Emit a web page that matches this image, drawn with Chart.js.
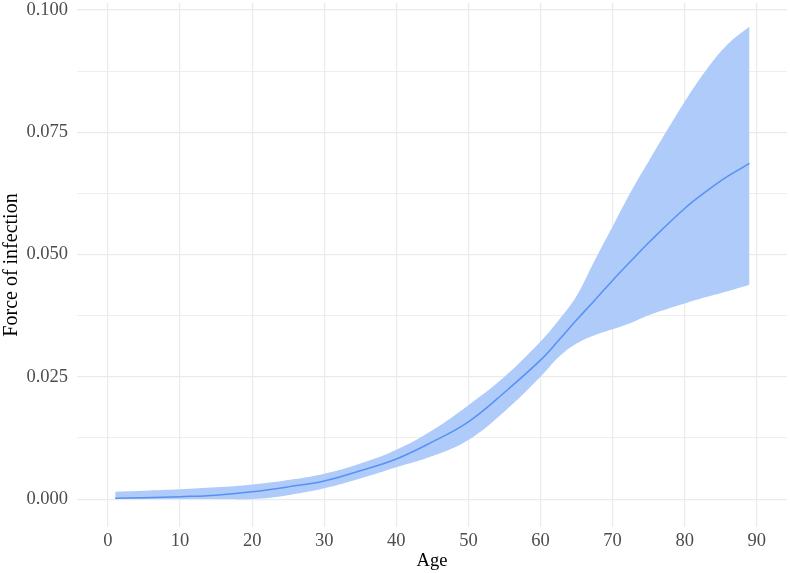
<!DOCTYPE html>
<html>
<head>
<meta charset="utf-8">
<script src="https://cdn.jsdelivr.net/npm/chart.js@4/dist/chart.umd.min.js"></script>
<style>
  html, body { margin: 0; padding: 0; background: #fff; }
  #wrap { width: 790px; height: 573px; }
</style>
</head>
<body>
<div id="wrap"><canvas id="foi"></canvas></div>
<script>
const ages = [1, 5, 10, 15, 20, 25, 30, 35, 40, 45, 50, 55, 60, 62.5, 65, 67.5, 70, 72.5, 75, 80, 83, 86, 89]
// posterior mean force of infection
const foiMean = [0.0002, 0.0003, 0.0005, 0.0008, 0.0015, 0.0025, 0.0037, 0.0058, 0.0082, 0.0117,
  0.0158, 0.0218, 0.0284, 0.0324, 0.0366, 0.0406, 0.0447, 0.0486, 0.0524, 0.0594, 0.0629, 0.0660, 0.0686]
// credible band
const foiLower = [0, 0, 0, 0, 0, 0.0008, 0.0022, 0.0042, 0.0065, 0.0088,
  0.0121, 0.0179, 0.0250, 0.0290, 0.0318, 0.0335, 0.0347, 0.0360, 0.0376, 0.0400, 0.0413, 0.0425, 0.0438]
const foiUpper = [0.0015, 0.0017, 0.0020, 0.0024, 0.0030, 0.0039, 0.0052, 0.0073, 0.0101, 0.0141,
  0.0192, 0.0250, 0.0322, 0.0365, 0.0415, 0.0487, 0.0557, 0.0627, 0.0690, 0.0812, 0.0877, 0.0930, 0.0966]

const xTicks = [0, 10, 20, 30, 40, 50, 60, 70, 80, 90]
const yTicks = [0, 0.0125, 0.025, 0.0375, 0.05, 0.0625, 0.075, 0.0875, 0.1]
const yLabeled = [0, 0.025, 0.05, 0.075, 0.1]

const pts = arr => arr.map((v, i) => ({ x: ages[i], y: v }))

const fontFam = "'Liberation Serif', 'Times New Roman', serif"
const isMajorY = v => yLabeled.some(m => Math.abs(m - v) < 1e-9)

new Chart(document.getElementById('foi'), {
  type: 'line',
  data: {
    datasets: [
      {
        data: pts(foiLower),
        borderWidth: 0,
        borderColor: 'rgba(0,0,0,0)',
        pointRadius: 0,
        fill: false,
        order: 1,
        tension: 0.4
      },
      {
        data: pts(foiUpper),
        borderWidth: 0,
        borderColor: 'rgba(0,0,0,0)',
        backgroundColor: 'rgb(174,203,250)',
        pointRadius: 0,
        fill: 0,
        order: 1,
        tension: 0.4
      },
      {
        data: pts(foiMean),
        borderWidth: 1.5,
        borderColor: 'rgb(88,145,245)',
        pointRadius: 0,
        fill: false,
        order: 0,
        tension: 0.4
      }
    ]
  },
  options: {
    responsive: true,
    maintainAspectRatio: false,
    animation: false,
    layout: { padding: { top: 3, right: 3, left: 0, bottom: 0 } },
    plugins: { legend: { display: false }, tooltip: { enabled: false } },
    scales: {
      x: {
        type: 'linear',
        min: -4.3,
        max: 94.2,
        afterBuildTicks: scale => { scale.ticks = xTicks.map(v => ({ value: v })) },
        afterFit: scale => { scale.height = 46; scale.paddingLeft = 0; scale.paddingRight = 0 },
        grid: { color: '#ebebeb', lineWidth: 1.2, drawTicks: false },
        border: { display: false },
        ticks: {
          padding: 3,
          color: '#4d4d4d',
          font: { family: fontFam, size: 18.5 },
          callback: v => String(v),
          maxRotation: 0
        },
        title: {
          display: true,
          text: 'Age',
          color: '#000',
          font: { family: fontFam, size: 18.5 },
          padding: { top: 0, bottom: 1 }
        }
      },
      y: {
        type: 'linear',
        min: -0.0057,
        max: 0.1014,
        afterBuildTicks: scale => { scale.ticks = yTicks.map(v => ({ value: v })) },
        afterFit: scale => { scale.width = 77; scale.paddingTop = 0; scale.paddingBottom = 0 },
        grid: {
          color: '#ebebeb',
          lineWidth: ctx => (ctx.tick && isMajorY(ctx.tick.value)) ? 1.2 : 0.8,
          drawTicks: false
        },
        border: { display: false },
        ticks: {
          padding: 9,
          color: '#4d4d4d',
          font: { family: fontFam, size: 18.5 },
          callback: v => isMajorY(v) ? v.toFixed(3) : ''
        },
        title: {
          display: true,
          text: 'Force of infection',
          color: '#000',
          font: { family: fontFam, size: 20 },
          padding: { top: 0, bottom: 0 }
        }
      }
    }
  }
})
</script>
</body>
</html>
